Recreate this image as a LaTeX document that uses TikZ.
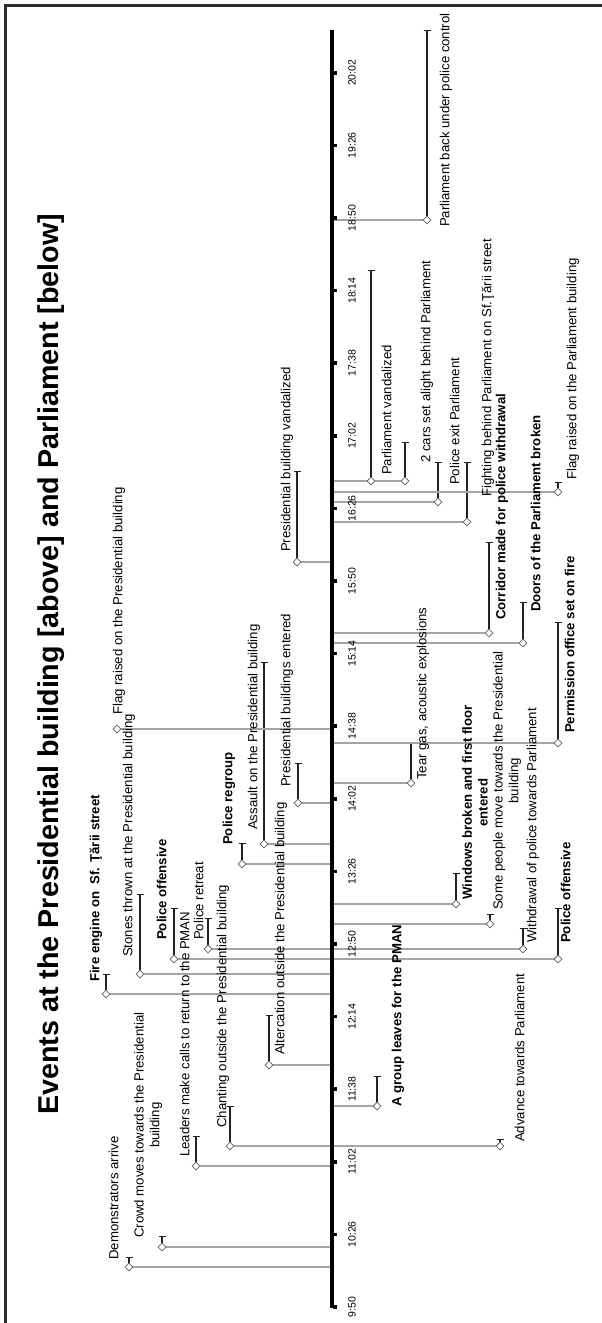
\documentclass[tikz,border=0pt]{standalone}
\usepackage{fontspec}
\setmainfont{Liberation Sans}
\usetikzlibrary{shapes.geometric,arrows.meta}
\definecolor{connGray}{RGB}{165,165,165}
\definecolor{barBlack}{RGB}{35,35,35}
\definecolor{diaGray}{RGB}{95,95,95}
\definecolor{frameCol}{RGB}{45,45,45}
\pgfdeclarelayer{bgl}
\pgfdeclarelayer{barsl}
\pgfdeclarelayer{connl}
\pgfsetlayers{bgl,barsl,connl,main}
% event: name, x of diamond, y of event, y of bar top
\newcommand\evt[4]{%
  \node[dmd] (d#1) at (#2,#3) {};
  \coordinate (t#1) at (#2,#4);
  \begin{pgfonlayer}{barsl}\draw[barline] (d#1) -- (t#1);\end{pgfonlayer}}
% connector from axis to diamond
\newcommand\cnx[2]{%
  \coordinate (a#1) at (332,#2);
  \begin{pgfonlayer}{connl}\draw[conn] (a#1) -- (d#1);\end{pgfonlayer}}
\begin{document}
\begin{tikzpicture}[x=1pt,y=-1pt,
  conn/.style={draw=connGray,line width=1.8pt},
  barline/.style={draw=barBlack,line width=1.4pt,-{Bar[width=7pt,line width=1.4pt]}},
  plainbar/.style={draw=barBlack,line width=1.4pt},
  dmd/.style={diamond,draw=diaGray,fill=white,line width=0.8pt,inner sep=0pt,minimum size=8pt},
  lbl/.style={rotate=90,anchor=west,inner sep=0pt,text height=9.4pt,text depth=2.8pt,font=\fontsize{13.2}{15.5}\selectfont},
  blbl/.style={lbl,font=\fontsize{13.2}{15.5}\selectfont\bfseries},
  mlbl/.style={rotate=90,anchor=west,inner sep=0pt,align=center,font=\fontsize{13.2}{15.8}\selectfont},
  tlbl/.style={rotate=90,anchor=center,inner sep=0pt,font=\fontsize{10.5}{12}\selectfont},
  ttl/.style={rotate=90,anchor=base west,inner sep=0pt,font=\fontsize{28.7}{32}\selectfont\bfseries}
]
\useasboundingbox (0,0) rectangle (602,1323);
\begin{pgfonlayer}{bgl}\fill[white] (0,0) rectangle (602,1323);\end{pgfonlayer}
% frame
\draw[frameCol,line width=3pt] (5,1323) -- (5,5) -- (602,5);
% title
\node[ttl] (title) at (58,1115) {Events at the Presidential building [above] and Parliament [below]};
% axis
\coordinate (axTop) at (332,30);
\coordinate (axBot) at (332,1308);
\draw[black,line width=4pt] (axTop) -- (axBot);
\foreach \k/\t in {0/9:50,1/10:26,2/11:02,3/11:38,4/12:14,5/12:50,6/13:26,7/14:02,8/14:38,9/15:14,10/15:50,11/16:26,12/17:02,13/17:38,14/18:14,15/18:50,16/19:26,17/20:02}{
  \pgfmathsetmacro\yy{1307-72.6*\k}
  \fill[black] (333,\yy-1.8) rectangle (336.5,\yy+1.8);
  \node[tlbl] (tick\k) at (352,\yy) {\t};
}
% events
\evt{A}{129}{1267}{1257}
\evt{B}{162}{1247}{1236}
\evt{C}{196}{1166}{1136}
\evt{D}{230}{1146}{1106}
\evt{E}{500}{1146}{1139}
\evt{F}{377}{1106}{1076}
\evt{G}{269}{1065}{1015}
\evt{H}{106}{994}{974}
\evt{I}{140}{974}{894}
\evt{J}{174}{959}{908}
\evt{K}{558}{959}{908}
\evt{L}{208}{949}{918}
\evt{M}{523}{949}{928}
\evt{N}{490}{924}{914}
\evt{O}{456}{904}{873}
\evt{P}{242}{864}{843}
\evt{Q}{264}{844}{662}
\evt{R}{298}{803}{763}
\node[dmd] (dS) at (411,783) {};
\coordinate (tS) at (411,743);
\begin{pgfonlayer}{barsl}\draw[plainbar] (dS) -- (tS);\end{pgfonlayer}
\node[dmd] (dT) at (117,729) {};
\evt{U}{558}{743}{622}
\evt{V}{489}{633}{542}
\evt{W}{523}{643}{602}
\evt{X}{297}{562}{471}
\evt{Y}{371}{481}{270}
\evt{Z}{405}{481}{442}
\evt{AA}{438}{502}{462}
\evt{AB}{467}{522}{462}
\evt{AC}{558}{492}{482}
\evt{AD}{427}{220}{30}
% connectors
\cnx{A}{1267}
\cnx{B}{1247}
\cnx{C}{1166}
\cnx{F}{1106}
\cnx{G}{1065}
\cnx{H}{994}
\cnx{I}{974}
\cnx{N}{924}
\cnx{O}{904}
\cnx{P}{864}
\cnx{Q}{844}
\cnx{R}{803}
\cnx{S}{783}
\cnx{T}{729}
\cnx{U}{743}
\cnx{V}{633}
\cnx{W}{643}
\cnx{X}{562}
\cnx{Z}{481}
\cnx{AA}{502}
\cnx{AB}{522}
\cnx{AC}{492}
\cnx{AD}{220}
\begin{pgfonlayer}{connl}
\draw[conn] (dD) -- (dE);
\draw[conn] (dJ) -- (dK);
\draw[conn] (dL) -- (dM);
\end{pgfonlayer}
% labels above (Presidential building)
\node[lbl] (lA) at (115,1260) {Demonstrators arrive};
\node[mlbl] (lB) at (148,1238) {Crowd moves towards the Presidential\\building};
\node[lbl] (lC) at (186,1157) {Leaders make calls to return to the PMAN};
\node[lbl] (lD) at (223,1128) {Chanting outside the Presidential building};
\node[lbl] (lG) at (281,1055) {Altercation outside the Presidential building};
\node[blbl] (lH) at (96,982) {Fire engine on\ \ Sf. Ţării street};
\node[lbl] (lI) at (129,957) {Stones thrown at the Presidential building};
\node[blbl] (lJ) at (163,940) {Police offensive};
\node[lbl] (lL) at (200,940) {Police retreat};
\node[blbl] (lP) at (229,845) {Police regroup};
\node[lbl] (lQ) at (254,830) {Assault on the Presidential building};
\node[lbl] (lR) at (287,787) {Presidential buildings entered};
\node[lbl] (lT) at (119,715) {Flag raised on the Presidential building};
\node[lbl] (lX) at (287,552) {Presidential building vandalized};
% labels below (Parliament)
\node[lbl] (lE) at (521,1142) {Advance towards Parliament};
\node[blbl] (lF) at (398,1107) {A group leaves for the PMAN};
\node[blbl] (lK) at (567,943) {Police offensive};
\node[lbl] (lM) at (533,943) {Withdrawal of police towards Parliament};
\node[mlbl] (lN) at (507,910) {Some people move towards the Presidential\\building};
\node[mlbl,font=\fontsize{13.2}{15.8}\selectfont\bfseries] (lO) at (475,900) {Windows broken and first floor\\entered};
\node[lbl] (lS) at (423,780) {Tear gas, acoustic explosions};
\node[blbl] (lU) at (571,733) {Permission office set on fire};
\node[blbl] (lV) at (502,620) {Corridor made for police withdrawal};
\node[blbl] (lW) at (537,612) {Doors of the Parliament broken};
\node[lbl] (lY) at (388,475) {Parliament vandalized};
\node[lbl] (lZ) at (427,463) {2 cars set alight behind Parliament};
\node[lbl] (lAA) at (456,485) {Police exit Parliament};
\node[lbl] (lAB) at (488,497) {Fighting behind Parliament on Sf.Ţării street};
\node[lbl] (lAC) at (573,480) {Flag raised on the Parliament building};
\node[lbl] (lAD) at (446,227) {Parliament back under police control};
\end{tikzpicture}
\end{document}
